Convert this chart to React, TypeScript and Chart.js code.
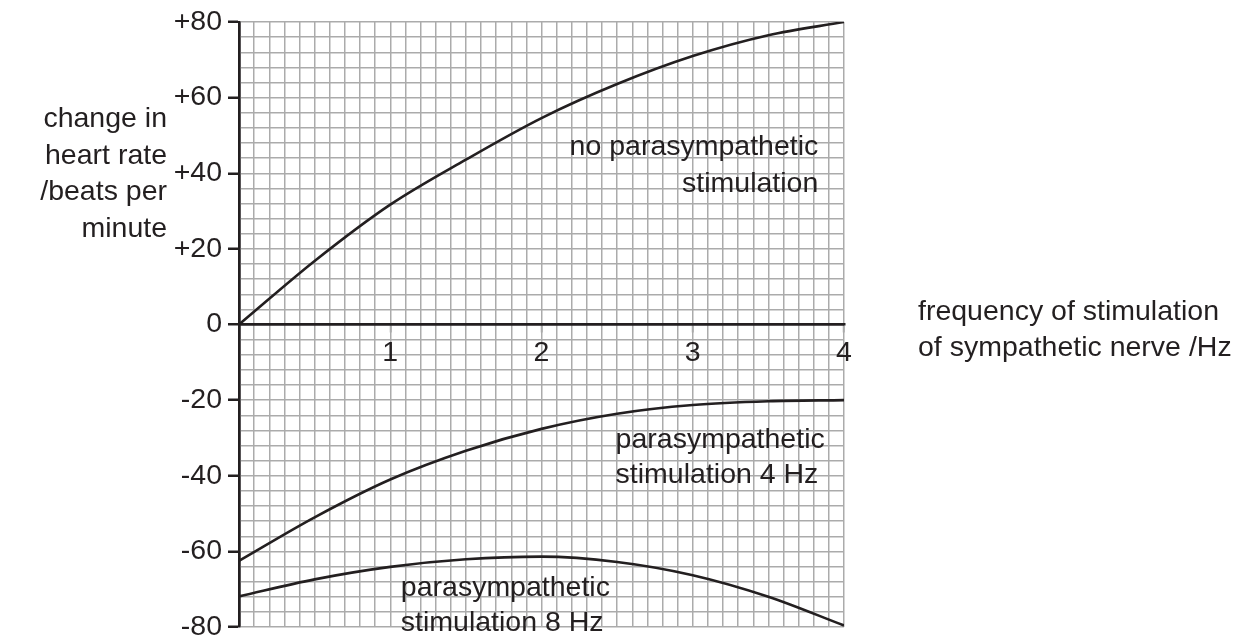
import React, { useEffect, useRef } from 'react';
import { Chart, registerables } from 'chart.js';

Chart.register(...registerables);

// ---- data ----
const frequencyHz = [0, 0.5, 1, 1.5, 2, 2.5, 3, 3.5, 4];
const noParasympathetic = [0, 16.8, 31.7, 43.6, 54.6, 63.6, 71, 76.5, 80];
const parasympathetic4Hz = [-62.5, -51.0, -41.0, -33.4, -27.6, -23.6, -21.3, -20.3, -20];
const parasympathetic8Hz = [-71.9, -67.4, -64.1, -62.1, -61.4, -62.8, -66.3, -72, -79.6];

const yMajorTicks = [-80, -60, -40, -20, 0, 20, 40, 60, 80];
const xMajorTicks = [1, 2, 3, 4];

const yAxisTitle = ['change in', 'heart rate', '/beats per', 'minute'];
const xAxisTitle = ['frequency of stimulation', 'of sympathetic nerve /Hz'];

const labelNoPara = ['no parasympathetic', 'stimulation'];
const label4Hz = ['parasympathetic', 'stimulation 4 Hz'];
const label8Hz = ['parasympathetic', 'stimulation 8 Hz'];

const INK = '#231f20';
const GRID = '#ababab';
const FONT = '"Liberation Sans", Arial, Helvetica, sans-serif';

const toPoints = (ys: number[]) => frequencyHz.map((x, i) => ({ x, y: ys[i] }));

const textPlugin = {
  id: 'chartTexts',
  afterDraw(chart: any) {
    const { ctx, chartArea } = chart;
    const xs = chart.scales.x;
    const ys = chart.scales.y;
    ctx.save();
    ctx.font = `28.5px ${FONT}`;
    ctx.fillStyle = INK;
    ctx.textBaseline = 'middle';

    const block = (lines: string[], px: number, py: number, align: CanvasTextAlign, lh: number) => {
      ctx.textAlign = align;
      lines.forEach((t, i) => ctx.fillText(t, px, py + i * lh));
    };

    // axis titles
    block(yAxisTitle, chartArea.left - 72, ys.getPixelForValue(54.2), 'right', 36.5);
    block(xAxisTitle, xs.getPixelForValue(4) + 74, ys.getPixelForValue(3.4), 'left', 36);

    // curve labels
    block(labelNoPara, xs.getPixelForValue(3.83), ys.getPixelForValue(46.9), 'right', 37);
    block(label4Hz, xs.getPixelForValue(2.49), ys.getPixelForValue(-30.6), 'left', 34.5);
    block(label8Hz, xs.getPixelForValue(1.07), ys.getPixelForValue(-69.8), 'left', 34.5);
    ctx.restore();
  },
};

export default function App() {
  const ref = useRef<HTMLCanvasElement | null>(null);

  useEffect(() => {
    if (!ref.current) return;
    const lineStyle = {
      borderColor: INK,
      borderWidth: 2.6,
      pointRadius: 0,
      fill: false,
      cubicInterpolationMode: 'monotone' as const,
    };
    const chart = new Chart(ref.current, {
      type: 'line',
      data: {
        datasets: [
          { label: 'no parasympathetic stimulation', data: toPoints(noParasympathetic), ...lineStyle },
          { label: 'parasympathetic stimulation 4 Hz', data: toPoints(parasympathetic4Hz), ...lineStyle },
          { label: 'parasympathetic stimulation 8 Hz', data: toPoints(parasympathetic8Hz), ...lineStyle },
        ],
      },
      options: {
        responsive: false,
        animation: false,
        events: [],
        layout: { padding: { left: 159, top: 22, right: 404, bottom: 10 } },
        plugins: { legend: { display: false }, tooltip: { enabled: false } },
        scales: {
          x: {
            type: 'linear',
            position: { y: 0 } as any,
            min: 0,
            max: 4,
            afterBuildTicks: (s: any) => {
              s.ticks = Array.from({ length: 41 }, (_, i) => ({ value: i / 10 }));
            },
            afterFit: (s: any) => {
              s.paddingLeft = 0;
              s.paddingRight = 0;
            },
            ticks: {
              autoSkip: false,
              maxRotation: 0,
              padding: 5,
              color: INK,
              font: { family: FONT, size: 28.5 },
              callback: (v: any) => (xMajorTicks.includes(Number(v)) ? String(v) : ''),
            },
            grid: {
              color: (c: any) => (c.tick && c.tick.value === 0 ? INK : GRID),
              lineWidth: (c: any) => (c.tick && c.tick.value === 0 ? 2.5 : 1.5),
              tickLength: 7,
              tickColor: (c: any) => (c.tick && xMajorTicks.includes(c.tick.value) ? GRID : 'rgba(0,0,0,0)'),
              tickWidth: 2,
            },
            border: { display: true, color: INK, width: 2.5 },
          },
          y: {
            type: 'linear',
            position: 'left',
            min: -80,
            max: 80,
            afterBuildTicks: (s: any) => {
              s.ticks = Array.from({ length: 41 }, (_, i) => ({ value: -80 + 4 * i }));
            },
            afterFit: (s: any) => {
              s.width = 80;
              s.paddingTop = 0;
              s.paddingBottom = 0;
            },
            ticks: {
              autoSkip: false,
              padding: 6,
              color: INK,
              font: { family: FONT, size: 28.5 },
              callback: (v: any) => {
                const n = Number(v);
                if (!yMajorTicks.includes(n)) return '';
                return n > 0 ? '+' + n : String(n);
              },
            },
            grid: {
              color: (c: any) => (c.tick && c.tick.value === 0 ? INK : GRID),
              lineWidth: (c: any) => (c.tick && c.tick.value === 0 ? 2.5 : 1.5),
              tickLength: 11,
              tickColor: (c: any) => (c.tick && yMajorTicks.includes(c.tick.value) ? INK : 'rgba(0,0,0,0)'),
              tickWidth: 2.5,
            },
            border: { display: true, color: INK, width: 2.5 },
          },
        },
      },
      plugins: [textPlugin],
    });
    return () => chart.destroy();
  }, []);

  return (
    <div style={{ position: 'fixed', left: 0, top: 0, width: 1248, height: 637, background: '#fff' }}>
      <canvas ref={ref} width={1248} height={637} style={{ display: 'block' }} />
    </div>
  );
}
